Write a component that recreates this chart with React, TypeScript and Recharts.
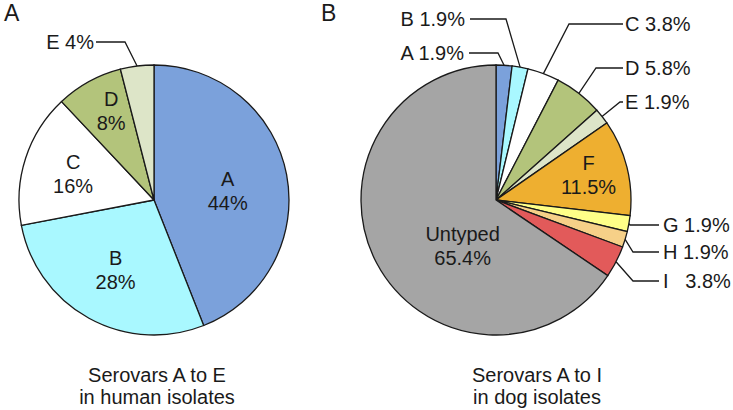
import React from "react";
import { PieChart, Pie, Cell } from "recharts";

const humanNames = ["A", "B", "C", "D", "E"];
const humanValues = [44, 28, 16, 8, 4];

const dogNames = ["A", "B", "C", "D", "E", "F", "G", "H", "I", "Untyped"];
const dogValues = [1.9, 1.9, 3.8, 5.8, 1.9, 11.5, 1.9, 1.9, 3.8, 65.4];

const colors: Record<string, string> = {
  A: "#7ba1db",
  B: "#a9f8ff",
  C: "#ffffff",
  D: "#b3c47b",
  E: "#dde5c8",
  F: "#eeaf30",
  G: "#ffff88",
  H: "#f6d088",
  I: "#e25a5a",
  Untyped: "#a5a5a5",
};

const FONT = "'Liberation Sans', Arial, sans-serif";
const INK = "#1a1a1a";
const RAD = Math.PI / 180;
const FS = 20;

type Layout =
  | { kind: "in"; r: number; shift?: number }
  | { kind: "out"; elbow: [number, number]; lineX: number; textX: number; gap?: string };

const humanLayout: Record<string, Layout> = {
  A: { kind: "in", r: 0.55, shift: -4 },
  B: { kind: "in", r: 0.59 },
  C: { kind: "in", r: 0.63 },
  D: { kind: "in", r: 0.73, shift: -3 },
  E: { kind: "out", elbow: [-29, -158], lineX: -58, textX: -60 },
};

const dogLayout: Record<string, Layout> = {
  A: { kind: "out", elbow: [2, -147], lineX: -27, textX: -32 },
  B: { kind: "out", elbow: [10, -181], lineX: -26, textX: -31 },
  C: { kind: "out", elbow: [73, -176], lineX: 127, textX: 129 },
  D: { kind: "out", elbow: [100, -132], lineX: 127, textX: 129 },
  E: { kind: "out", elbow: [124, -98], lineX: 127, textX: 129 },
  F: { kind: "in", r: 0.71, shift: 1 },
  G: { kind: "out", elbow: [134, 25], lineX: 163, textX: 167 },
  H: { kind: "out", elbow: [137, 52], lineX: 163, textX: 167 },
  I: { kind: "out", elbow: [137, 81], lineX: 163, textX: 167, gap: "\u00a0\u00a0\u00a0" },
  Untyped: { kind: "in", r: 0.42, shift: 26 },
};

function makeLabel(names: string[], values: number[], layout: Record<string, Layout>, digits: number) {
  return (props: any) => {
    const { cx, cy, midAngle, outerRadius, index } = props;
    const name = names[index];
    const pct = values[index].toFixed(digits) + "%";
    const l = layout[name];
    if (l.kind === "in") {
      const a = (midAngle + (l.shift || 0)) * RAD;
      const x = cx + outerRadius * l.r * Math.cos(a);
      const y = cy - outerRadius * l.r * Math.sin(a);
      return (
        <g>
          <text x={x} y={y - 12} textAnchor="middle" dominantBaseline="central" fill={INK} fontSize={FS} fontFamily={FONT}>
            {name}
          </text>
          <text x={x} y={y + 12} textAnchor="middle" dominantBaseline="central" fill={INK} fontSize={FS} fontFamily={FONT}>
            {pct}
          </text>
        </g>
      );
    }
    const a = midAngle * RAD;
    const x0 = cx + outerRadius * Math.cos(a);
    const y0 = cy - outerRadius * Math.sin(a);
    const ex = cx + l.elbow[0];
    const ey = cy + l.elbow[1];
    const lx = cx + l.lineX;
    return (
      <g>
        <polyline points={`${x0},${y0} ${ex},${ey} ${lx},${ey}`} fill="none" stroke={INK} strokeWidth={1.3} />
        <text
          x={cx + l.textX}
          y={ey}
          textAnchor={l.textX > 0 ? "start" : "end"}
          dominantBaseline="central"
          fill={INK}
          fontSize={FS}
          fontFamily={FONT}
        >
          {name + (l.gap || " ") + pct}
        </text>
      </g>
    );
  };
}

const humanData = humanNames.map((name, i) => ({ name, value: humanValues[i] }));
const dogData = dogNames.map((name, i) => ({ name, value: dogValues[i] }));

export default function App() {
  return (
    <div style={{ position: "fixed", left: 0, top: 0, width: 733, height: 410, background: "#fff" }}>
      <PieChart width={733} height={410} margin={{ top: 0, right: 0, bottom: 0, left: 0 }}>
        <Pie
          data={humanData}
          dataKey="value"
          cx={154}
          cy={200}
          outerRadius={135}
          startAngle={90}
          endAngle={-270}
          stroke={INK}
          strokeWidth={1.3}
          labelLine={false}
          label={makeLabel(humanNames, humanValues, humanLayout, 0)}
          isAnimationActive={false}
        >
          {humanData.map((d) => (
            <Cell key={d.name} fill={colors[d.name]} />
          ))}
        </Pie>
        <Pie
          data={dogData}
          dataKey="value"
          cx={496}
          cy={200}
          outerRadius={135}
          startAngle={90}
          endAngle={-270}
          stroke={INK}
          strokeWidth={1.3}
          labelLine={false}
          label={makeLabel(dogNames, dogValues, dogLayout, 1)}
          isAnimationActive={false}
        >
          {dogData.map((d) => (
            <Cell key={d.name} fill={colors[d.name]} />
          ))}
        </Pie>
      </PieChart>
      <svg width={733} height={410} style={{ position: "absolute", left: 0, top: 0, pointerEvents: "none" }}>
        <g fill={INK} fontFamily={FONT}>
          <text x={4} y={21} fontSize={23}>A</text>
          <text x={321} y={21} fontSize={23}>B</text>
          <text x={157} y={375} fontSize={FS} textAnchor="middle" dominantBaseline="central">Serovars A to E</text>
          <text x={157} y={397} fontSize={FS} textAnchor="middle" dominantBaseline="central">in human isolates</text>
          <text x={537} y={375} fontSize={FS} textAnchor="middle" dominantBaseline="central">Serovars A to I</text>
          <text x={537} y={397} fontSize={FS} textAnchor="middle" dominantBaseline="central">in dog isolates</text>
        </g>
      </svg>
    </div>
  );
}
